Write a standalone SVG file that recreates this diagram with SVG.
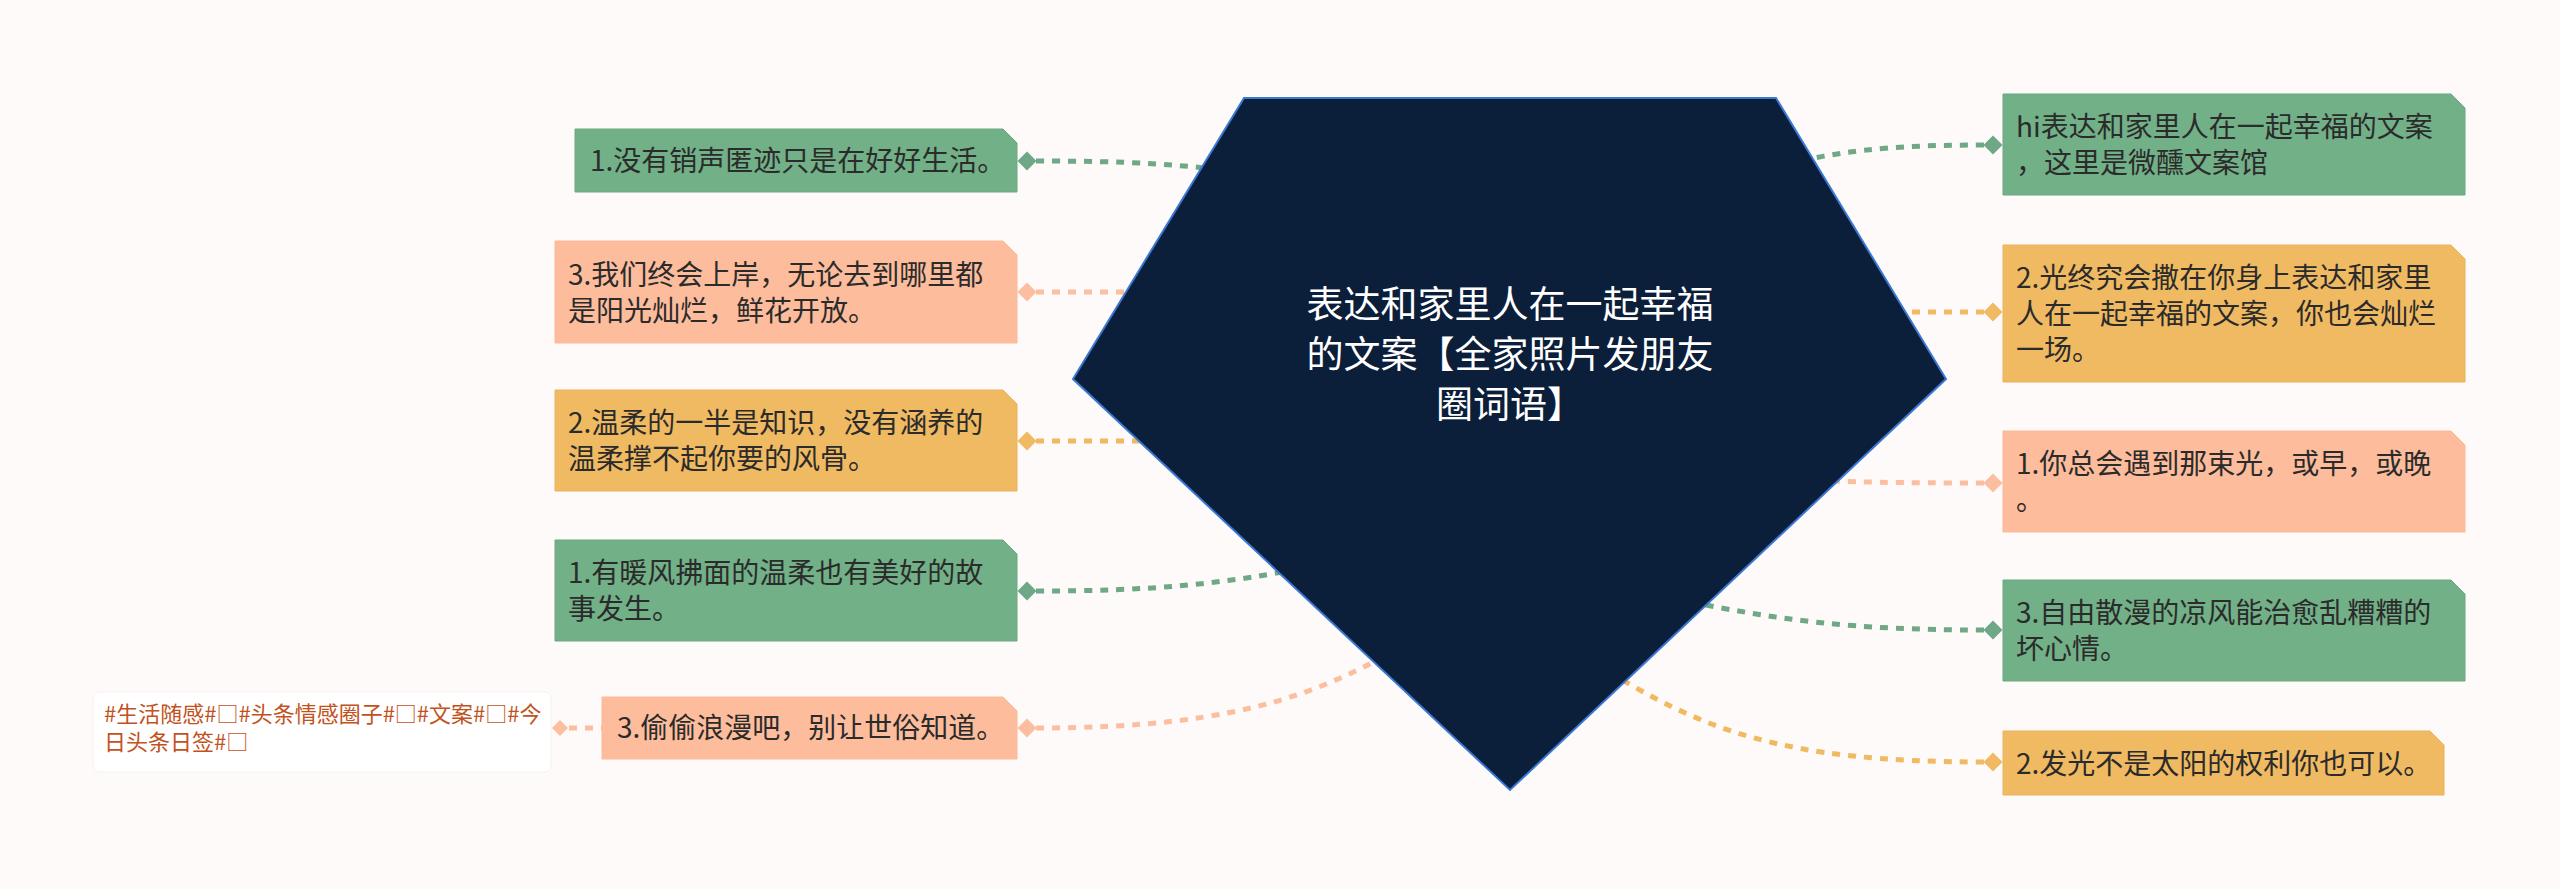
<svg xmlns="http://www.w3.org/2000/svg" width="2560" height="889" viewBox="0 0 2560 889">
<style>
.t{font-family:"Noto Sans CJK SC","Liberation Sans",sans-serif;font-size:28px;fill:#2b2b2b}
.c{font-family:"Noto Sans CJK SC","Liberation Sans",sans-serif;font-size:37px;fill:#ffffff;text-anchor:middle}
.tag{font-family:"Noto Sans CJK SC","Liberation Sans",sans-serif;font-size:22px;fill:#c2521d}
.g{fill:#72b088;stroke:#6aa880;stroke-width:1}
.o{fill:#f0ba62;stroke:#ebb35a;stroke-width:1}
.s{fill:#fdbd9c;stroke:#fbb896;stroke-width:1}
.ln{fill:none;stroke-width:5;stroke-dasharray:8 8}
.lg{stroke:#6ea886}.dg{fill:#6ea886}
.lo{stroke:#f0ba62}.do{fill:#f0ba62}
.ls{stroke:#fbbf9f}.ds{fill:#fbbf9f}
</style>
<rect width="2560" height="889" fill="#fdfaf9"/>
<g id="connectors">
<path class="ln lg" d="M1036 161 C1130 161 1180 164 1245 173"/>
<path class="ln ls" d="M1036 292 L1150 292"/>
<path class="ln lo" d="M1036 441 L1160 441"/>
<path class="ln lg" d="M1036 591 C1150 591 1220 585 1320 565"/>
<path class="ln ls" d="M1036 728 C1250 728 1330 690 1430 630"/>
<path class="ln ls" d="M569 728 L602 728"/>
<path class="ln lg" d="M1984 145 C1880 145 1840 152 1780 165"/>
<path class="ln lo" d="M1984 312 L1880 312"/>
<path class="ln ls" d="M1984 483 C1900 483 1850 482 1800 480"/>
<path class="ln lg" d="M1984 630 C1850 630 1780 620 1680 600"/>
<path class="ln lo" d="M1984 762 C1780 762 1700 730 1590 660"/>
<path class="dg" d="M1027 151.5 L1036.5 161 L1027 170.5 L1017.5 161 Z"/>
<path class="ds" d="M1027 282.5 L1036.5 292 L1027 301.5 L1017.5 292 Z"/>
<path class="do" d="M1027 431.5 L1036.5 441 L1027 450.5 L1017.5 441 Z"/>
<path class="dg" d="M1027 581.5 L1036.5 591 L1027 600.5 L1017.5 591 Z"/>
<path class="ds" d="M1027 718.5 L1036.5 728 L1027 737.5 L1017.5 728 Z"/>
<path class="ds" d="M560 720 L568 728 L560 736 L552 728 Z"/>
<path class="dg" d="M1993 135.5 L2002.5 145 L1993 154.5 L1983.5 145 Z"/>
<path class="do" d="M1993 302.5 L2002.5 312 L1993 321.5 L1983.5 312 Z"/>
<path class="ds" d="M1993 473.5 L2002.5 483 L1993 492.5 L1983.5 483 Z"/>
<path class="dg" d="M1993 620.5 L2002.5 630 L1993 639.5 L1983.5 630 Z"/>
<path class="do" d="M1993 752.5 L2002.5 762 L1993 771.5 L1983.5 762 Z"/>
</g>
<g id="center">
<polygon points="1244,98 1776,98 1946,379 1510,790 1073,379" fill="#0b1e3a" stroke="#3a78d4" stroke-width="2"/>
<text class="c" x="1510" y="318">表达和家里人在一起幸福</text>
<text class="c" x="1510" y="368">的文案【全家照片发朋友</text>
<text class="c" x="1510" y="418">圈词语】</text>
</g>
<g id="L1">
<path class="g" d="M575 129 H1003 L1017 143 V192 H575 Z"/>
<text class="t" x="590" y="171">1.没有销声匿迹只是在好好生活。</text>
</g>
<g id="L2">
<path class="s" d="M555 241 H1003 L1017 255 V343 H555 Z"/>
<text class="t" x="568" y="285">3.我们终会上岸，无论去到哪里都</text>
<text class="t" x="568" y="321">是阳光灿烂，鲜花开放。</text>
</g>
<g id="L3">
<path class="o" d="M555 390 H1003 L1017 404 V491 H555 Z"/>
<text class="t" x="568" y="433">2.温柔的一半是知识，没有涵养的</text>
<text class="t" x="568" y="469">温柔撑不起你要的风骨。</text>
</g>
<g id="L4">
<path class="g" d="M555 540 H1003 L1017 554 V641 H555 Z"/>
<text class="t" x="568" y="583">1.有暖风拂面的温柔也有美好的故</text>
<text class="t" x="568" y="619">事发生。</text>
</g>
<g id="L5">
<path class="s" d="M602 697 H1003 L1017 711 V759 H602 Z"/>
<text class="t" x="617" y="738">3.偷偷浪漫吧，别让世俗知道。</text>
</g>
<g id="tag">
<rect x="93" y="692" width="458" height="80" rx="6" fill="#ffffff" stroke="#f6efec" stroke-width="1"/>
<text class="tag" x="104" y="722">#生活随感#□#头条情感圈子#□#文案#□#今</text>
<text class="tag" x="104" y="750">日头条日签#□</text>
</g>
<g id="R1">
<path class="g" d="M2003 94 H2451 L2465 108 V195 H2003 Z"/>
<text class="t" x="2016" y="137">hi表达和家里人在一起幸福的文案</text>
<text class="t" x="2016" y="173">，这里是微醺文案馆</text>
</g>
<g id="R2">
<path class="o" d="M2003 245 H2451 L2465 259 V382 H2003 Z"/>
<text class="t" x="2016" y="288">2.光终究会撒在你身上表达和家里</text>
<text class="t" x="2016" y="324">人在一起幸福的文案，你也会灿烂</text>
<text class="t" x="2016" y="360">一场。</text>
</g>
<g id="R3">
<path class="s" d="M2003 431 H2451 L2465 445 V532 H2003 Z"/>
<text class="t" x="2016" y="474">1.你总会遇到那束光，或早，或晚</text>
<text class="t" x="2016" y="510">。</text>
</g>
<g id="R4">
<path class="g" d="M2003 580 H2451 L2465 594 V681 H2003 Z"/>
<text class="t" x="2016" y="623">3.自由散漫的凉风能治愈乱糟糟的</text>
<text class="t" x="2016" y="659">坏心情。</text>
</g>
<g id="R5">
<path class="o" d="M2003 731 H2430 L2444 745 V795 H2003 Z"/>
<text class="t" x="2016" y="774">2.发光不是太阳的权利你也可以。</text>
</g>
</svg>
